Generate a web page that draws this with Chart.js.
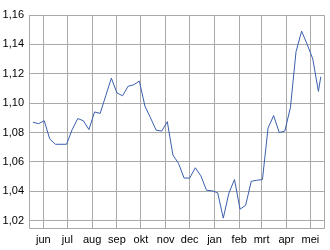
<!DOCTYPE html>
<html>
<head>
<meta charset="utf-8">
<script src="https://cdn.jsdelivr.net/npm/chart.js@4/dist/chart.umd.min.js"></script>
<style>
  body { margin: 0; background: #fff; }
  #koers { display: block; }
</style>
</head>
<body>
<canvas id="koers" width="330" height="250"></canvas>
<script>
// datums van de punten (wekelijks)
const dates = [
  "2010-05-19", "2010-05-26", "2010-06-02", "2010-06-09", "2010-06-16", "2010-06-23",
  "2010-06-30", "2010-07-07", "2010-07-14", "2010-07-21", "2010-07-28", "2010-08-04",
  "2010-08-11", "2010-08-18", "2010-08-25", "2010-09-01", "2010-09-08", "2010-09-15",
  "2010-09-22", "2010-09-29", "2010-10-06", "2010-10-13", "2010-10-20", "2010-10-27",
  "2010-11-03", "2010-11-10", "2010-11-17", "2010-11-24", "2010-12-01", "2010-12-08",
  "2010-12-15", "2010-12-22", "2010-12-29", "2011-01-05", "2011-01-12", "2011-01-19",
  "2011-01-26", "2011-02-02", "2011-02-09", "2011-02-16", "2011-02-23", "2011-03-02",
  "2011-03-09", "2011-03-16", "2011-03-23", "2011-03-30", "2011-04-06", "2011-04-13",
  "2011-04-20", "2011-04-27", "2011-05-04", "2011-05-11", "2011-05-14"
];

const values = [
  1.087, 1.086, 1.088, 1.0756, 1.072, 1.072,
  1.072, 1.082, 1.0895, 1.088, 1.082, 1.094,
  1.093, 1.105, 1.117, 1.107, 1.105, 1.1115,
  1.1125, 1.115, 1.098, 1.090, 1.0816, 1.081,
  1.0874, 1.0647, 1.059, 1.049, 1.049, 1.056,
  1.0505, 1.0407, 1.0403, 1.039, 1.0217, 1.0387,
  1.048, 1.0278, 1.0305, 1.0468, 1.0475, 1.048,
  1.083, 1.0915, 1.080, 1.081, 1.097, 1.135,
  1.149, 1.140, 1.130, 1.108, 1.118
];

// maandlabels op de x-as
const monthStarts = [
  "2010-06-01", "2010-07-01", "2010-08-01", "2010-09-01", "2010-10-01", "2010-11-01",
  "2010-12-01", "2011-01-01", "2011-02-01", "2011-03-01", "2011-04-01", "2011-05-01"
];
const monthLabels = ["jun", "jul", "aug", "sep", "okt", "nov", "dec", "jan", "feb", "mrt", "apr", "mei"];

const yTicks = [1.02, 1.04, 1.06, 1.08, 1.10, 1.12, 1.14, 1.16];

// dagnummer uit datumstring
function day(s) {
  return Date.parse(s) / 86400000;
}

const points = dates.map((d, i) => ({ x: day(d), y: values[i] }));

// kader rond het plotgebied
const frame = {
  id: "frame",
  beforeDatasetsDraw(chart) {
    const a = chart.chartArea;
    const c = chart.ctx;
    const l = Math.round(a.left) + 0.5, r = Math.round(a.right) + 0.5;
    const t = Math.round(a.top) + 0.5, b = Math.round(a.bottom) + 0.5;
    c.save();
    c.strokeStyle = "#a9a9a9";
    c.lineWidth = 1;
    c.beginPath();
    c.moveTo(l, t); c.lineTo(r, t); c.lineTo(r, b); c.lineTo(l, b); c.closePath();
    c.stroke();
    c.restore();
  }
};

const tickFont = { family: "'Liberation Sans', Arial, sans-serif", size: 11 };

new Chart(document.getElementById("koers").getContext("2d"), {
  type: "line",
  data: {
    datasets: [{
      data: points,
      borderColor: "#3a5fad",
      borderWidth: 1,
      pointRadius: 0,
      tension: 0,
      fill: false,
    }],
  },
  options: {
    responsive: false,
    animation: false,
    layout: { padding: { top: 15, right: 6, left: 0, bottom: 0 } },
    plugins: {
      legend: { display: false },
      tooltip: { enabled: false },
    },
    scales: {
      x: {
        type: "linear",
        min: day("2010-05-14"),
        max: day("2011-05-18"),
        afterBuildTicks: (scale) => {
          scale.ticks = monthStarts.map((m) => ({ value: day(m) }));
        },
        afterFit: (scale) => { scale.height = 22; },
        grid: { color: "#a9a9a9", drawTicks: false },
        border: { display: false },
        ticks: {
          autoSkip: false,
          maxRotation: 0,
          padding: 5,
          color: "#000",
          font: tickFont,
          callback: (v) => {
            const i = monthStarts.findIndex((m) => Math.abs(day(m) - v) < 0.01);
            return i >= 0 ? monthLabels[i] : "";
          },
        },
      },
      y: {
        min: 1.015,
        max: 1.16,
        afterBuildTicks: (scale) => {
          scale.ticks = yTicks.map((v) => ({ value: v }));
        },
        afterFit: (scale) => { scale.width = 29; },
        grid: { color: "#a9a9a9", drawTicks: false },
        border: { display: false },
        ticks: {
          padding: 5,
          color: "#000",
          font: tickFont,
          callback: (v) => v.toFixed(2).replace(".", ","),
        },
      },
    },
  },
  plugins: [frame],
});
</script>
</body>
</html>
